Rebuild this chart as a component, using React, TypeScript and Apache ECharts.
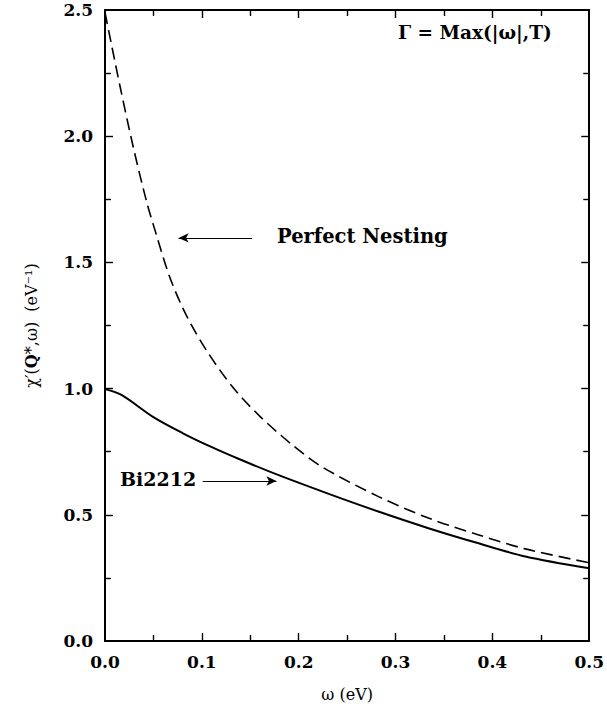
import React, { useEffect, useRef } from "react";
import * as echarts from "echarts";

const omegaNesting = [0, 0.0154, 0.029, 0.043, 0.053, 0.067, 0.084, 0.105, 0.132, 0.16, 0.194, 0.224, 0.283, 0.334, 0.386, 0.434, 0.5];
const chiNesting = [2.49, 2.2, 1.96, 1.74, 1.61, 1.44, 1.29, 1.15, 1.005, 0.89, 0.775, 0.69, 0.571, 0.487, 0.42, 0.365, 0.31];

const omegaBi = [0, 0.017, 0.05, 0.08, 0.108, 0.139, 0.18, 0.231, 0.283, 0.334, 0.383, 0.434, 0.5];
const chiBi = [0.998, 0.975, 0.887, 0.824, 0.772, 0.72, 0.656, 0.583, 0.512, 0.447, 0.39, 0.335, 0.288];

const nestingArrow = [[0.152, 1.597], [0.076, 1.597]];
const biArrow = [[0.101, 0.634], [0.177, 0.634]];

const xMajorTicks = [0.1, 0.2, 0.3, 0.4];
const xMinorTicks = [0.05, 0.15, 0.25, 0.35, 0.45];
const yMajorTicks = [0.5, 1.0, 1.5, 2.0];
const yMinorTicks = [0.25, 0.75, 1.25, 1.75, 2.25];

const X_MIN = 0, X_MAX = 0.5, Y_MIN = 0, Y_MAX = 2.5;
const GRID = { left: 105, right: 16, top: 10, bottom: 68 };
const W = 607, H = 709;

const FONT = "DejaVu Serif";

export default function App() {
  const ref = useRef<HTMLDivElement>(null);
  useEffect(() => {
    document.body.style.margin = "0";
    const chart = echarts.init(ref.current!, null, { renderer: "svg" });
    const axisCommon = {
      type: "value" as const,
      axisLine: { show: true, onZero: false, lineStyle: { color: "#000", width: 2 } },
      axisTick: { show: false },
      minorTick: { show: false },
      splitLine: { show: false },
    };
    // tick lengths converted from pixels to data units
    const pxX = (X_MAX - X_MIN) / (W - GRID.left - GRID.right);
    const pxY = (Y_MAX - Y_MIN) / (H - GRID.top - GRID.bottom);
    const tickLines: any[] = [];
    const seg = (a: number[], b: number[]) => [
      { coord: a, symbol: "none" },
      { coord: b, symbol: "none" },
    ];
    const addX = (v: number, len: number) => {
      tickLines.push(seg([v, Y_MIN], [v, Y_MIN + len * pxY]));
      tickLines.push(seg([v, Y_MAX], [v, Y_MAX - len * pxY]));
    };
    const addY = (v: number, len: number) => {
      tickLines.push(seg([X_MIN, v], [X_MIN + len * pxX, v]));
      tickLines.push(seg([X_MAX, v], [X_MAX - len * pxX, v]));
    };
    xMajorTicks.forEach((v) => addX(v, 8));
    xMinorTicks.forEach((v) => addX(v, 6));
    yMajorTicks.forEach((v) => addY(v, 8));
    yMinorTicks.forEach((v) => addY(v, 6));

    chart.setOption({
      animation: false,
      backgroundColor: "#fff",
      grid: GRID,
      xAxis: [
        {
          ...axisCommon,
          position: "bottom",
          min: X_MIN,
          max: X_MAX,
          interval: 0.1,
          axisLabel: {
            margin: 12,
            color: "#000",
            fontFamily: FONT,
            fontWeight: "bold",
            fontSize: 17,
            formatter: (v: number) => v.toFixed(1),
          },
          name: "ω (eV)",
          nameLocation: "middle",
          nameGap: 45,
          nameTextStyle: { color: "#000", fontFamily: FONT, fontSize: 16 },
        },
        {
          ...axisCommon,
          position: "top",
          min: X_MIN,
          max: X_MAX,
          interval: 0.1,
          axisLabel: { show: false },
        },
      ],
      yAxis: [
        {
          ...axisCommon,
          position: "left",
          min: Y_MIN,
          max: Y_MAX,
          interval: 0.5,
          axisLabel: {
            margin: 12,
            color: "#000",
            fontFamily: FONT,
            fontWeight: "bold",
            fontSize: 17,
            formatter: (v: number) => v.toFixed(1),
          },
          name: "{n|χ′(}{b|Q}{n|*,ω)  (eV⁻¹)}",
          nameLocation: "middle",
          nameRotate: 90,
          nameGap: 66,
          nameTextStyle: {
            color: "#000",
            fontFamily: FONT,
            fontSize: 16,
            rich: {
              n: { fontFamily: FONT, fontSize: 16, color: "#000" },
              b: { fontFamily: FONT, fontSize: 16, fontWeight: "bold", color: "#000" },
            },
          },
        },
        {
          ...axisCommon,
          position: "right",
          min: Y_MIN,
          max: Y_MAX,
          interval: 0.5,
          axisLabel: { show: false },
        },
      ],
      series: [
        {
          type: "line",
          name: "Perfect Nesting",
          data: omegaNesting.map((w, i) => [w, chiNesting[i]]),
          showSymbol: false,
          smooth: 0.3,
          lineStyle: { color: "#000", width: 1.6, type: [12, 6] },
          markLine: {
            silent: true,
            symbol: ["none", "arrow"],
            symbolSize: [7, 10],
            label: { show: false },
            lineStyle: { color: "#000", width: 1, type: "solid" },
            data: [[{ coord: nestingArrow[0] }, { coord: nestingArrow[1] }]],
          },
        },
        {
          type: "line",
          name: "Bi2212",
          data: omegaBi.map((w, i) => [w, chiBi[i]]),
          showSymbol: false,
          smooth: 0.3,
          lineStyle: { color: "#000", width: 2 },
          markLine: {
            silent: true,
            symbol: ["none", "arrow"],
            symbolSize: [7, 10],
            label: { show: false },
            lineStyle: { color: "#000", width: 1, type: "solid" },
            data: [[{ coord: biArrow[0] }, { coord: biArrow[1] }]],
          },
        },
        {
          type: "line",
          name: "ticks",
          data: [[X_MIN, Y_MIN]],
          showSymbol: false,
          lineStyle: { width: 0, opacity: 0 },
          silent: true,
          clip: false,
          markLine: {
            silent: true,
            symbol: ["none", "none"],
            label: { show: false },
            lineStyle: { color: "#000", width: 1.4, type: "solid" },
            data: tickLines,
          },
        },
      ],
      graphic: [
        {
          type: "text",
          left: 277,
          top: 226,
          style: { text: "Perfect Nesting", fill: "#000", font: `bold 19.5px "${FONT}"` },
        },
        {
          type: "text",
          left: 120,
          top: 469,
          style: { text: "Bi2212", fill: "#000", font: `bold 19px "${FONT}"` },
        },
        {
          type: "text",
          left: 398,
          top: 23,
          style: { text: "Γ = Max(|ω|,T)", fill: "#000", font: `bold 18.5px "${FONT}"` },
        },
      ],
    });
    return () => chart.dispose();
  }, []);
  return <div ref={ref} style={{ width: W, height: H }} />;
}
